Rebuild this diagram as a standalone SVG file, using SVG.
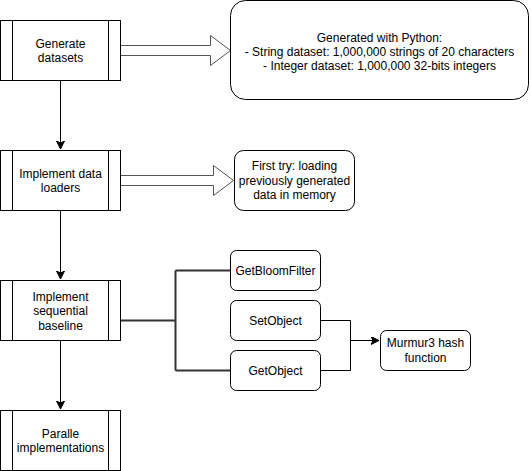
<svg xmlns="http://www.w3.org/2000/svg" width="531" height="471" viewBox="0 0 531 471">
<style>
.box{fill:#fff;stroke:#000;stroke-width:1}
.t{font-family:"Liberation Sans",Arial,sans-serif;font-size:12px;fill:#000;text-anchor:middle}
.ln{fill:none;stroke:#000;stroke-width:1}
.thick{fill:none;stroke:#333;stroke-width:2}
.blk{fill:#fff;stroke:#555;stroke-width:1}
</style>
<defs>
<marker id="ah" markerWidth="10" markerHeight="10" refX="8" refY="4" orient="auto" markerUnits="userSpaceOnUse">
<path d="M0,0 L8,4 L0,8 L2,4 Z" fill="#000" stroke="#000" stroke-width="1"/>
</marker>
</defs>
<rect width="531" height="471" fill="#fff"/>
<g id="connectors">
<line class="ln" x1="60.5" y1="80.5" x2="60.5" y2="149" marker-end="url(#ah)"/>
<line class="ln" x1="60.5" y1="210.5" x2="60.5" y2="279" marker-end="url(#ah)"/>
<line class="ln" x1="60.5" y1="340.5" x2="60.5" y2="409" marker-end="url(#ah)"/>
<path class="blk" d="M120.5,45.5 H210.5 V35.5 L230.5,50.5 L210.5,65.5 V55.5 H120.5 Z"/>
<path class="blk" d="M120.5,175.5 H213.5 V165.5 L233.5,180.5 L213.5,195.5 V185.5 H120.5 Z"/>
<path class="thick" d="M120.5,320.5 H175.5 M175.5,270.5 V370.5 M175.5,270.5 H230.5 M175.5,370.5 H230.5"/>
<path class="ln" d="M320.5,320.5 H350.5 V370.5 H320.5 M350.5,340.5 H379" marker-end="url(#ah)"/>
</g>
<g id="gen">
<rect class="box" x="0.5" y="20.5" width="120" height="60"/>
<line class="ln" x1="12.5" y1="20.5" x2="12.5" y2="80.5"/>
<line class="ln" x1="108.5" y1="20.5" x2="108.5" y2="80.5"/>
<text class="t" x="60.5" y="47.5">Generate</text>
<text class="t" x="60.5" y="61.5">datasets</text>
</g>
<g id="loaders">
<rect class="box" x="0.5" y="150.5" width="120" height="60"/>
<line class="ln" x1="12.5" y1="150.5" x2="12.5" y2="210.5"/>
<line class="ln" x1="108.5" y1="150.5" x2="108.5" y2="210.5"/>
<text class="t" x="60.5" y="177.5">Implement data</text>
<text class="t" x="60.5" y="192">loaders</text>
</g>
<g id="seq">
<rect class="box" x="0.5" y="280.5" width="120" height="60"/>
<line class="ln" x1="12.5" y1="280.5" x2="12.5" y2="340.5"/>
<line class="ln" x1="108.5" y1="280.5" x2="108.5" y2="340.5"/>
<text class="t" x="60.5" y="300.5">Implement</text>
<text class="t" x="60.5" y="315">sequential</text>
<text class="t" x="60.5" y="329.5">baseline</text>
</g>
<g id="par">
<rect class="box" x="0.5" y="410.5" width="120" height="60"/>
<line class="ln" x1="12.5" y1="410.5" x2="12.5" y2="470.5"/>
<line class="ln" x1="108.5" y1="410.5" x2="108.5" y2="470.5"/>
<text class="t" x="60.5" y="437.5">Paralle</text>
<text class="t" x="60.5" y="452">implementations</text>
</g>
<g id="python">
<rect class="box" x="230.5" y="0.5" width="298" height="99" rx="15" ry="15"/>
<text class="t" x="379.5" y="41.5">Generated with Python:</text>
<text class="t" x="379.5" y="56">- String dataset: 1,000,000 strings of 20 characters</text>
<text class="t" x="379.5" y="70">- Integer dataset: 1,000,000 32-bits integers</text>
</g>
<g id="firsttry">
<rect class="box" x="234.5" y="150.5" width="120" height="60" rx="9" ry="9"/>
<text class="t" x="294.5" y="170">First try: loading</text>
<text class="t" x="294.5" y="184.5">previously generated</text>
<text class="t" x="294.5" y="199">data in memory</text>
</g>
<g id="bloom">
<rect class="box" x="230.5" y="250.5" width="90" height="40" rx="6" ry="6"/>
<text class="t" x="275.5" y="275">GetBloomFilter</text>
</g>
<g id="set">
<rect class="box" x="230.5" y="300.5" width="90" height="40" rx="6" ry="6"/>
<text class="t" x="275.5" y="325">SetObject</text>
</g>
<g id="get">
<rect class="box" x="230.5" y="350.5" width="90" height="40" rx="6" ry="6"/>
<text class="t" x="275.5" y="374.5">GetObject</text>
</g>
<g id="murmur">
<rect class="box" x="380.5" y="330.5" width="90" height="40" rx="6" ry="6"/>
<text class="t" x="425.5" y="346.5">Murmur3 hash</text>
<text class="t" x="425.5" y="362">function</text>
</g>
</svg>
